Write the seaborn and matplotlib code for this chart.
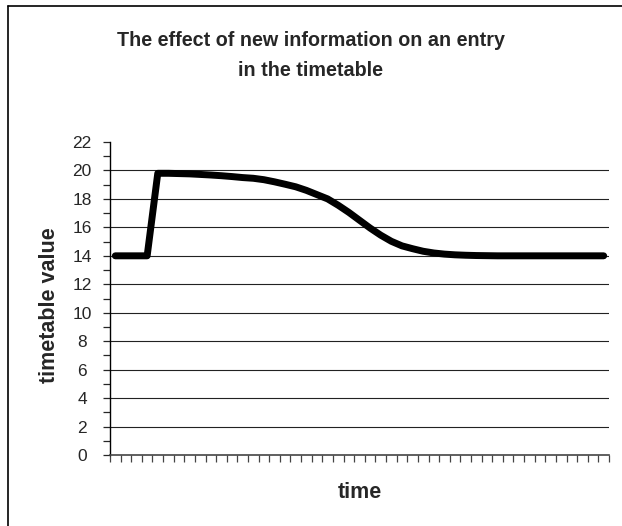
import numpy as np
import pandas as pd
import matplotlib
matplotlib.use("Agg")
import matplotlib.pyplot as plt
from matplotlib.ticker import MultipleLocator
from matplotlib.lines import Line2D
import seaborn as sns

# values, one per time step (47 categories)
timetable_value = [14, 14, 14, 14, 19.8, 19.8, 19.78, 19.76, 19.72, 19.68,
                   19.63, 19.57, 19.5, 19.45, 19.35, 19.2, 19.03, 18.85, 18.6, 18.3,
                   18.0, 17.55, 17.05, 16.5, 15.95, 15.45, 15.02, 14.7, 14.5, 14.32,
                   14.2, 14.12, 14.07, 14.04, 14.02, 14.01, 14, 14, 14, 14,
                   14, 14, 14, 14, 14, 14, 14]
y_ticks = [0, 2, 4, 6, 8, 10, 12, 14, 16, 18, 20, 22]

data = pd.DataFrame({"time": np.arange(len(timetable_value)), "value": timetable_value})

sns.set_style("white")
plt.rcParams['font.family'] = ['Liberation Sans', 'DejaVu Sans']

fig = plt.figure(figsize=(6.22, 5.26), dpi=100)
ax = fig.add_axes([110/622, 1-455/526, 499/622, 313/526])

for y in y_ticks[1:-1]:
    ax.axhline(y, color="#222222", lw=0.8, zorder=1)

sns.lineplot(x="time", y="value", data=data, color="black", lw=5, ax=ax,
             solid_capstyle="round", solid_joinstyle="round", zorder=3)

n = len(timetable_value)
ax.set_xlim(-0.5, n - 0.5)
ax.set_ylim(0, 22)
ax.set_xticks(np.arange(n + 1) - 0.5)
ax.set_xticklabels([])
ax.set_yticks(y_ticks)
ax.set_yticklabels([str(v) for v in y_ticks])
ax.yaxis.set_minor_locator(MultipleLocator(1))
ax.tick_params(axis="x", direction="out", length=5, width=0.9, color="#444444", bottom=True)
ax.tick_params(axis="y", which="both", direction="out", length=5, width=0.9, left=True, pad=15,
               labelsize=12.5)
plt.setp(ax.get_yticklabels(), ha="center")

for s in ["top", "right"]:
    ax.spines[s].set_visible(False)
ax.spines["left"].set_color("black")
ax.spines["bottom"].set_color("#444444")
ax.spines["left"].set_linewidth(1.0)
ax.spines["bottom"].set_linewidth(1.2)

ax.set_xlabel("time", fontsize=15.5, fontweight="bold", va="center")
ax.xaxis.set_label_coords(0.5, -38/313)
ax.set_ylabel("timetable value", fontsize=15.5, fontweight="bold", va="center")
ax.yaxis.set_label_coords(-60/499, 150/313)

fig.text(0.5, 1 - 55.5/526, "The effect of new information on an entry\nin the timetable",
         ha="center", va="center", fontsize=14.2, fontweight="bold", linespacing=1.72)

# outer chart frame (only left and top visible in the reference)
fig.add_artist(Line2D([8/622, 8/622], [0, 1 - 6/526], transform=fig.transFigure, color="black", lw=1.2))
fig.add_artist(Line2D([8/622, 1], [1 - 6/526, 1 - 6/526], transform=fig.transFigure, color="black", lw=1.2))

fig.savefig("out.png", dpi=100)
